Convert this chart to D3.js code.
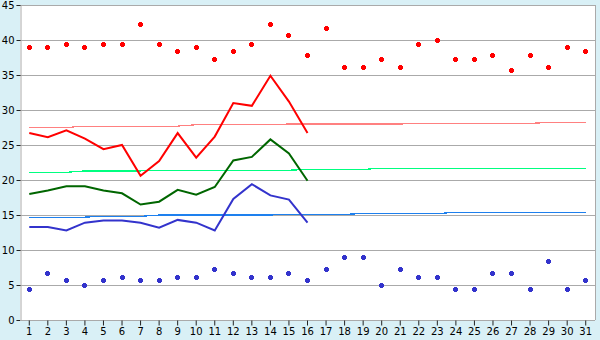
<!doctype html>
<html>
<head>
<script src="https://d3js.org/d3.v7.min.js"></script>
<style>
  body { margin: 0; background: #d9f0f6; }
  svg { display: block; }
</style>
</head>
<body>
<svg width="600" height="340" id="chart"></svg>
<script>
// days of the month
var days = d3.range(1, 32);
var yTicks = [0, 5, 10, 15, 20, 25, 30, 35, 40, 45];

// daily extremes (scatter)
var maxTemps = [38.9, 38.9, 39.4, 38.9, 39.4, 39.4, 42.2, 39.4, 38.3, 38.9,
                37.2, 38.3, 39.4, 42.2, 40.6, 37.8, 41.7, 36.1, 36.1, 37.2,
                36.1, 39.4, 40.0, 37.2, 37.2, 37.8, 35.6, 37.8, 36.1, 38.9, 38.3];
var minTemps = [4.4, 6.7, 5.6, 5.0, 5.6, 6.1, 5.6, 5.6, 6.1, 6.1,
                7.2, 6.7, 6.1, 6.1, 6.7, 5.6, 7.2, 8.9, 8.9, 5.0,
                7.2, 6.1, 6.1, 4.4, 4.4, 6.7, 6.7, 4.4, 8.3, 4.4, 5.6];

// observed high / mean / low (days 1-16)
var highLine = [26.7, 26.1, 27.1, 25.9, 24.4, 25.0, 20.6, 22.7, 26.7, 23.2,
                26.2, 31.0, 30.6, 34.9, 31.2, 26.7];
var meanLine = [18.0, 18.5, 19.1, 19.1, 18.5, 18.1, 16.5, 16.9, 18.6, 17.9,
                19.0, 22.8, 23.3, 25.8, 23.8, 19.9];
var lowLine  = [13.3, 13.3, 12.8, 13.9, 14.2, 14.2, 13.9, 13.2, 14.3, 13.9,
                12.8, 17.3, 19.4, 17.8, 17.2, 13.9];

// normals
var normHigh = [27.5, 27.5, 27.5, 27.7, 27.7, 27.7, 27.7, 27.7, 27.7, 27.9,
                27.9, 27.9, 27.9, 27.9, 28.0, 28.0, 28.0, 28.0, 28.0, 28.0,
                28.0, 28.1, 28.1, 28.1, 28.1, 28.1, 28.1, 28.1, 28.2, 28.2, 28.2];
var normMean = [21.1, 21.1, 21.1, 21.3, 21.3, 21.3, 21.3, 21.4, 21.4, 21.4,
                21.4, 21.4, 21.4, 21.4, 21.4, 21.5, 21.5, 21.5, 21.5, 21.7,
                21.7, 21.7, 21.7, 21.7, 21.7, 21.7, 21.7, 21.7, 21.7, 21.7, 21.7];
var normLow  = [14.7, 14.7, 14.7, 14.7, 14.8, 14.8, 14.8, 15.0, 15.0, 15.0,
                15.0, 15.0, 15.0, 15.0, 15.1, 15.1, 15.1, 15.1, 15.2, 15.2,
                15.2, 15.2, 15.2, 15.4, 15.4, 15.4, 15.4, 15.4, 15.4, 15.4, 15.4];

var svg = d3.select("#chart");
var plotL = 20, plotR = 595, plotT = 5, plotB = 320;

var x = d3.scaleBand().domain(days).range([plotL, plotR]);
var y = d3.scaleLinear().domain([0, 45]).range([plotB, plotT]);
var cx = function (d) { return x(d) + x.bandwidth() / 2; };

// plot background
svg.append("rect")
  .attr("x", plotL).attr("y", plotT)
  .attr("width", plotR - plotL).attr("height", plotB - plotT)
  .attr("fill", "#ffffff");

// grid
svg.append("g")
  .selectAll("line")
  .data(yTicks.filter(function (t) { return t > 0; }))
  .join("line")
  .attr("x1", plotL).attr("x2", plotR)
  .attr("y1", function (d) { return y(d) + 0.5; })
  .attr("y2", function (d) { return y(d) + 0.5; })
  .attr("stroke", "#aaaaaa")
  .attr("shape-rendering", "crispEdges");

// right border
svg.append("line")
  .attr("x1", plotR + 0.5).attr("x2", plotR + 0.5)
  .attr("y1", plotT).attr("y2", plotB)
  .attr("stroke", "#aaaaaa");

// axes
var yAxis = svg.append("g")
  .attr("transform", "translate(" + (plotL + 0.5) + ",0)")
  .call(d3.axisLeft(y).tickValues(yTicks).tickSize(4).tickPadding(2));
var xAxis = svg.append("g")
  .attr("transform", "translate(0," + (plotB + 0.5) + ")")
  .call(d3.axisBottom(x).tickSize(5).tickPadding(2).tickSizeOuter(0));

[yAxis, xAxis].forEach(function (a) {
  a.selectAll(".domain").attr("stroke", "#aaaaaa");
  a.selectAll(".tick line").attr("stroke", "#222222");
  a.selectAll("text")
    .attr("fill", "#000")
    .style("font-family", "DejaVu Sans")
    .style("font-size", "10px");
});
xAxis.select(".domain").attr("d", "M" + plotL + ",0H" + plotR);

// normals
var normals = [
  { values: normHigh, color: "#ff8080" },
  { values: normMean, color: "#00ff80" },
  { values: normLow,  color: "#1e80ee" }
];
normals.forEach(function (s) {
  svg.append("path")
    .datum(s.values)
    .attr("fill", "none")
    .attr("stroke", s.color)
    .attr("stroke-width", 1.2)
    .attr("shape-rendering", "crispEdges")
    .attr("d", d3.line()
      .x(function (d, i) { return cx(days[i]); })
      .y(function (d) { return y(d); }));
});

// observed lines
var observed = [
  { values: highLine, color: "#ff0000" },
  { values: meanLine, color: "#006600" },
  { values: lowLine,  color: "#3333cc" }
];
observed.forEach(function (s) {
  svg.append("path")
    .datum(s.values)
    .attr("fill", "none")
    .attr("stroke", s.color)
    .attr("stroke-width", 2)
    .attr("d", d3.line()
      .x(function (d, i) { return cx(days[i]); })
      .y(function (d) { return y(d); }));
});

// extremes: small plus with thick arms (5px across, 3px arms)
var fatPlus = {
  draw: function (ctx) {
    var a = 1.5, b = 2.5;
    ctx.moveTo(-a, -b); ctx.lineTo(a, -b); ctx.lineTo(a, -a);
    ctx.lineTo(b, -a); ctx.lineTo(b, a); ctx.lineTo(a, a);
    ctx.lineTo(a, b); ctx.lineTo(-a, b); ctx.lineTo(-a, a);
    ctx.lineTo(-b, a); ctx.lineTo(-b, -a); ctx.lineTo(-a, -a);
    ctx.closePath();
  }
};
var marker = d3.symbol().type(fatPlus);
[{ values: maxTemps, color: "#ff0000" }, { values: minTemps, color: "#3333cc" }]
  .forEach(function (s) {
    svg.append("g")
      .selectAll("path")
      .data(s.values)
      .join("path")
      .attr("transform", function (d, i) {
        return "translate(" + (Math.floor(cx(days[i])) + 0.5) + "," +
          (Math.floor(y(d)) + 0.5) + ")";
      })
      .attr("d", marker)
      .attr("fill", s.color)
      .attr("shape-rendering", "crispEdges");
  });
</script>
</body>
</html>
